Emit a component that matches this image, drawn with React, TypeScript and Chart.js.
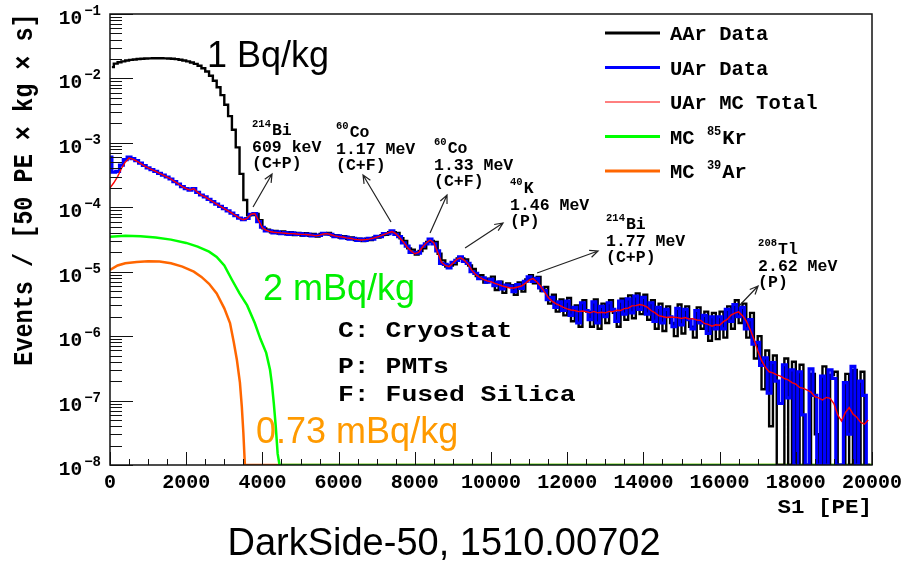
import React, { useEffect, useRef } from 'react';
import { Chart, registerables } from 'chart.js';

Chart.register(...registerables);

// ---------- DATA ----------
// S1 bin centres (PE), 100 PE bins, 0 .. 19900 (UAr data / MC); AAr data bins are offset by half a bin
const BIN_PE: number[] = Array.from({ length: 200 }, (_, i) => i * 100);
const AAR_BIN_PE: number[] = Array.from({ length: 200 }, (_, i) => i * 100 + 50);

// AAr data (events / [50 PE x kg x s])
const AAR_DATA: number[] = [
  1.5e-2, 1.7e-2, 1.78e-2, 1.84e-2, 1.9e-2, 1.94e-2, 1.97e-2, 2.0e-2, 2.02e-2, 2.04e-2,
  2.05e-2, 2.06e-2, 2.06e-2, 2.06e-2, 2.05e-2, 2.04e-2, 2.02e-2, 1.99e-2, 1.95e-2, 1.9e-2,
  1.84e-2, 1.77e-2, 1.68e-2, 1.57e-2, 1.44e-2, 1.28e-2, 1.1e-2, 9.2e-3, 7.3e-3, 5.5e-3,
  3.9e-3, 2.6e-3, 1.6e-3, 8.5e-4, 3.3e-4, 1.3e-4, 7.5e-5, 7.6e-5, 7.9e-5, 6.3e-5,
  4.7e-5, 4.5e-5, 4.1e-5, 4.3e-5, 3.9e-5, 4.2e-5, 3.8e-5, 4.1e-5, 3.7e-5, 4.0e-5,
  3.65e-5, 3.95e-5, 3.6e-5, 3.85e-5, 3.5e-5, 3.85e-5, 3.8e-5, 4.0e-5, 3.65e-5, 3.7e-5,
  3.4e-5, 3.55e-5, 3.25e-5, 3.4e-5, 3.1e-5, 3.25e-5, 3.0e-5, 3.25e-5, 3.1e-5, 3.4e-5,
  3.4e-5, 3.7e-5, 3.75e-5, 4.1e-5, 4.1e-5, 4.0e-5, 3.3e-5, 3.0e-5, 2.3e-5, 2.2e-5,
  1.85e-5, 2.1e-5, 2.3e-5, 2.9e-5, 3.0e-5, 2.9e-5, 1.9e-5, 1.5e-5, 1.2e-5, 1.25e-5,
  1.3e-5, 1.6e-5, 1.6e-5, 1.55e-5, 1.25e-5, 1.1e-5, 8.6e-6, 8.8e-6, 6.8e-6, 7.8e-6,
  8.4e-6, 5.2e-6, 7.0e-6, 4.7e-6, 6.6e-6, 6.2e-6, 4.4e-6, 6.8e-6, 4.9e-6, 7.6e-6,
  8.8e-6, 6.6e-6, 8.3e-6, 5.0e-6, 5.8e-6, 3.2e-6, 4.4e-6, 2.4e-6, 3.7e-6, 2.1e-6,
  3.9e-6, 1.7e-6, 3.0e-6, 1.4e-6, 3.6e-6, 2.4e-6, 1.4e-6, 3.7e-6, 1.3e-6, 3.2e-6,
  1.6e-6, 3.6e-6, 2.3e-6, 1.4e-6, 3.8e-6, 1.8e-6, 4.3e-6, 1.9e-6, 4.6e-6, 2.2e-6,
  4.4e-6, 1.8e-6, 3.6e-6, 1.3e-6, 3.2e-6, 1.2e-6, 2.9e-6, 1.6e-6, 1.0e-6, 3.1e-6,
  1.1e-6, 2.9e-6, 1.4e-6, 0.95e-6, 2.8e-6, 1.3e-6, 2.4e-6, 0.85e-6, 2.3e-6, 0.9e-6,
  2.4e-6, 0.95e-6, 2.9e-6, 1.3e-6, 3.6e-6, 1.6e-6, 3.2e-6, 0.95e-6, 2.3e-6, 4.5e-7,
  1.0e-6, 1.5e-7, 6.0e-7, 4e-8, 5.0e-7, 1e-8, 1e-8, 4.5e-7, 1e-8, 4.0e-7,
  1e-8, 3.6e-7, 1e-8, 1e-8, 2.6e-7, 3e-8, 1e-8, 3.4e-7, 1e-8, 2.5e-7,
  2.8e-7, 1e-8, 1e-8, 2.6e-7, 1e-8, 3.0e-7, 1e-8, 2.8e-7, 1e-8, 1e-8,
];

// UAr data
const UAR_DATA: number[] = [
  6.0e-4, 3.5e-4, 3.6e-4, 4.5e-4, 5.5e-4, 6.0e-4, 5.7e-4, 5.3e-4, 4.85e-4, 4.45e-4,
  4.1e-4, 3.85e-4, 3.6e-4, 3.35e-4, 3.15e-4, 2.95e-4, 2.75e-4, 2.5e-4, 2.3e-4, 2.1e-4,
  1.95e-4, 1.85e-4, 1.95e-4, 1.7e-4, 1.55e-4, 1.45e-4, 1.33e-4, 1.22e-4, 1.12e-4, 1.03e-4,
  9.5e-5, 8.8e-5, 8.1e-5, 7.4e-5, 6.8e-5, 6.4e-5, 6.7e-5, 7.8e-5, 8.0e-5, 6.0e-5,
  4.9e-5, 4.3e-5, 4.3e-5, 4.0e-5, 4.15e-5, 3.9e-5, 4.05e-5, 3.8e-5, 4.0e-5, 3.8e-5,
  3.9e-5, 3.7e-5, 3.85e-5, 3.6e-5, 3.7e-5, 3.65e-5, 3.95e-5, 3.85e-5, 3.8e-5, 3.5e-5,
  3.6e-5, 3.35e-5, 3.45e-5, 3.2e-5, 3.3e-5, 3.05e-5, 3.2e-5, 3.05e-5, 3.3e-5, 3.2e-5,
  3.55e-5, 3.5e-5, 3.9e-5, 3.9e-5, 4.3e-5, 3.8e-5, 3.5e-5, 2.8e-5, 2.5e-5, 2.0e-5,
  2.0e-5, 1.95e-5, 2.5e-5, 2.7e-5, 3.2e-5, 2.7e-5, 2.1e-5, 1.35e-5, 1.3e-5, 1.15e-5,
  1.4e-5, 1.5e-5, 1.7e-5, 1.45e-5, 1.35e-5, 1.0e-5, 9.4e-6, 7.8e-6, 8.0e-6, 6.9e-6,
  7.6e-6, 6.1e-6, 6.9e-6, 5.4e-6, 6.2e-6, 6.0e-6, 4.9e-6, 6.3e-6, 5.5e-6, 7.1e-6,
  8.3e-6, 7.1e-6, 7.9e-6, 5.6e-6, 5.1e-6, 3.7e-6, 4.0e-6, 2.8e-6, 3.4e-6, 2.5e-6,
  3.5e-6, 2.1e-6, 2.8e-6, 1.6e-6, 3.3e-6, 2.5e-6, 1.8e-6, 3.4e-6, 1.6e-6, 2.9e-6,
  2.0e-6, 3.3e-6, 2.6e-6, 1.7e-6, 3.5e-6, 2.2e-6, 3.8e-6, 2.3e-6, 4.2e-6, 2.6e-6,
  4.0e-6, 2.2e-6, 3.3e-6, 1.7e-6, 2.8e-6, 1.6e-6, 2.6e-6, 2.0e-6, 1.4e-6, 2.7e-6,
  1.5e-6, 2.6e-6, 1.8e-6, 1.3e-6, 2.5e-6, 1.6e-6, 2.1e-6, 1.1e-6, 2.0e-6, 1.3e-6,
  2.0e-6, 1.3e-6, 2.6e-6, 1.7e-6, 3.1e-6, 2.0e-6, 2.8e-6, 1.3e-6, 1.8e-6, 7.5e-7,
  8.0e-7, 3.5e-7, 4.6e-7, 1.3e-7, 3.9e-7, 2.0e-7, 9e-8, 3.6e-7, 1.1e-7, 3.0e-7,
  1e-8, 2.8e-7, 6e-8, 1e-8, 3.1e-7, 1.2e-7, 1e-8, 2.4e-7, 1e-8, 3.0e-7,
  2.2e-7, 1e-8, 1e-8, 1.9e-7, 3e-8, 3.4e-7, 1e-8, 2.0e-7, 1.2e-7, 1e-8,
];

// UAr MC total
const UAR_MC: number[] = [
  2.0e-4, 2.4e-4, 3.0e-4, 4.0e-4, 5.0e-4, 5.8e-4, 5.6e-4, 5.2e-4, 4.8e-4, 4.4e-4,
  4.1e-4, 3.85e-4, 3.6e-4, 3.35e-4, 3.15e-4, 2.95e-4, 2.75e-4, 2.5e-4, 2.3e-4, 2.1e-4,
  1.95e-4, 1.85e-4, 1.95e-4, 1.7e-4, 1.55e-4, 1.45e-4, 1.33e-4, 1.22e-4, 1.12e-4, 1.03e-4,
  9.5e-5, 8.8e-5, 8.1e-5, 7.4e-5, 6.8e-5, 6.4e-5, 6.7e-5, 7.8e-5, 8.0e-5, 6.2e-5,
  4.8e-5, 4.4e-5, 4.2e-5, 4.1e-5, 4.05e-5, 4.0e-5, 3.95e-5, 3.9e-5, 3.9e-5, 3.85e-5,
  3.8e-5, 3.8e-5, 3.75e-5, 3.7e-5, 3.6e-5, 3.7e-5, 3.85e-5, 3.9e-5, 3.75e-5, 3.6e-5,
  3.5e-5, 3.45e-5, 3.35e-5, 3.3e-5, 3.2e-5, 3.15e-5, 3.1e-5, 3.15e-5, 3.2e-5, 3.3e-5,
  3.45e-5, 3.6e-5, 3.8e-5, 4.0e-5, 4.2e-5, 3.9e-5, 3.4e-5, 2.9e-5, 2.4e-5, 2.1e-5,
  1.9e-5, 2.0e-5, 2.4e-5, 2.8e-5, 3.1e-5, 2.8e-5, 2.0e-5, 1.4e-5, 1.25e-5, 1.2e-5,
  1.35e-5, 1.55e-5, 1.65e-5, 1.5e-5, 1.3e-5, 1.05e-5, 9.0e-6, 8.2e-6, 7.6e-6, 7.2e-6,
  7.0e-6, 6.6e-6, 6.3e-6, 6.0e-6, 5.8e-6, 5.6e-6, 5.6e-6, 5.8e-6, 6.0e-6, 6.6e-6,
  7.4e-6, 7.8e-6, 7.0e-6, 6.0e-6, 4.9e-6, 4.0e-6, 3.5e-6, 3.2e-6, 3.0e-6, 2.8e-6,
  2.65e-6, 2.55e-6, 2.5e-6, 2.4e-6, 2.45e-6, 2.4e-6, 2.3e-6, 2.42e-6, 2.3e-6, 2.35e-6,
  2.3e-6, 2.42e-6, 2.4e-6, 2.52e-6, 2.5e-6, 2.68e-6, 2.72e-6, 2.95e-6, 2.98e-6, 3.1e-6,
  3.0e-6, 2.82e-6, 2.5e-6, 2.32e-6, 2.08e-6, 2.02e-6, 1.95e-6, 1.98e-6, 1.96e-6, 1.94e-6,
  1.88e-6, 1.94e-6, 1.84e-6, 1.87e-6, 1.78e-6, 1.76e-6, 1.58e-6, 1.52e-6, 1.43e-6, 1.5e-6,
  1.48e-6, 1.68e-6, 1.82e-6, 2.12e-6, 2.28e-6, 2.38e-6, 2.08e-6, 1.72e-6, 1.28e-6, 9e-7,
  6.0e-7, 4.2e-7, 3.3e-7, 2.8e-7, 2.7e-7, 2.5e-7, 2.4e-7, 2.2e-7, 2.1e-7, 1.9e-7,
  1.8e-7, 1.6e-7, 1.55e-7, 1.45e-7, 1.35e-7, 1.15e-7, 1.1e-7, 1.02e-7, 1.12e-7, 1.08e-7,
  9e-8, 6e-8, 4.8e-8, 6.5e-8, 7.8e-8, 6.2e-8, 5.5e-8, 4.6e-8, 4.3e-8, 5e-8,
];

// MC 85Kr
const KR_PE: number[] = [0, 400, 800, 1200, 1600, 2000, 2300, 2600, 2800, 3000, 3200, 3400, 3600, 3800, 3950, 4100, 4200, 4250, 4300, 4350, 4400, 4450, 20000];
const KR_VAL: number[] = [3.5e-5, 3.6e-5, 3.55e-5, 3.4e-5, 3.15e-5, 2.8e-5, 2.45e-5, 2.05e-5, 1.7e-5, 1.25e-5, 7.5e-6, 4.6e-6, 3.0e-6, 1.6e-6, 9e-7, 5.5e-7, 3.0e-7, 1.8e-7, 9e-8, 4e-8, 1.5e-8, 1e-8, 1e-8];

// MC 39Ar
const AR_PE: number[] = [0, 200, 400, 700, 1000, 1300, 1600, 1900, 2200, 2400, 2600, 2800, 3000, 3150, 3250, 3330, 3410, 3460, 3500, 3540, 20000];
const AR_VAL: number[] = [1.07e-5, 1.25e-5, 1.35e-5, 1.42e-5, 1.45e-5, 1.44e-5, 1.35e-5, 1.2e-5, 1.0e-5, 8.3e-6, 6.5e-6, 4.6e-6, 2.7e-6, 1.6e-6, 8e-7, 4.3e-7, 1.9e-7, 8e-8, 3.2e-8, 1e-8, 1e-8];

// Axis ranges / ticks
const X_MIN = 0;
const X_MAX = 20000;
const X_MAJOR = 2000;
const X_MINOR = 500;
const Y_MIN = 1e-8;
const Y_MAX = 1e-1;
const Y_DECADES: number[] = [-8, -7, -6, -5, -4, -3, -2, -1];
const Y_MINOR_MULT: number[] = [2, 3, 4, 5, 6, 7, 8, 9];

// Peak annotations (data coordinates)
const PEAK_LABELS = [
  { iso: '214', el: 'Bi', lines: ['609 keV', '(C+P)'], pe: 3728, val: 1.32e-3 },
  { iso: '60', el: 'Co', lines: ['1.17 MeV', '(C+F)'], pe: 5933, val: 1.23e-3 },
  { iso: '60', el: 'Co', lines: ['1.33 MeV', '(C+F)'], pe: 8505, val: 6.96e-4 },
  { iso: '40', el: 'K', lines: ['1.46 MeV', '(P)'], pe: 10500, val: 1.67e-4 },
  { iso: '214', el: 'Bi', lines: ['1.77 MeV', '(C+P)'], pe: 13020, val: 4.6e-5 },
  { iso: '208', el: 'Tl', lines: ['2.62 MeV', '(P)'], pe: 17010, val: 1.88e-5 },
];
const PEAK_ARROWS = [
  { fromPE: 3754, fromVal: 1.01e-4, toPE: 4253, toVal: 3.29e-4 },
  { fromPE: 7376, fromVal: 5.9e-5, toPE: 6641, toVal: 3.17e-4 },
  { fromPE: 8400, fromVal: 4.0e-5, toPE: 8846, toVal: 1.55e-4 },
  { fromPE: 9319, fromVal: 2.33e-5, toPE: 10316, toVal: 5.7e-5 },
  { fromPE: 11209, fromVal: 9.55e-6, toPE: 12810, toVal: 2.1e-5 },
  { fromPE: 16485, fromVal: 2.83e-6, toPE: 17010, toVal: 6.0e-6 },
];
const ACTIVITY_LABELS = [
  { text: '1 Bq/kg', pe: 2546, val: 1.5e-2, color: '#000000' },
  { text: '2 mBq/kg', pe: 4016, val: 3.64e-6, color: '#00ee00' },
  { text: '0.73 mBq/kg', pe: 3833, val: 2.2e-8, color: '#ff9a00' },
];
const SOURCE_LABELS = [
  { text: 'C: Cryostat', pe: 5985, val: 9.7e-7 },
  { text: 'P: PMTs', pe: 5985, val: 2.68e-7 },
  { text: 'F: Fused Silica', pe: 5985, val: 9.85e-8 },
];
const LEGEND_ITEMS = [
  { pre: 'AAr Data', sup: '', post: '', color: '#000000', width: 3 },
  { pre: 'UAr Data', sup: '', post: '', color: '#0000ff', width: 3 },
  { pre: 'UAr MC Total', sup: '', post: '', color: '#ff0000', width: 1 },
  { pre: 'MC ', sup: '85', post: 'Kr', color: '#00ff00', width: 3 },
  { pre: 'MC ', sup: '39', post: 'Ar', color: '#ff6600', width: 3 },
];
const X_TITLE = 'S1 [PE]';
const Y_TITLE = 'Events / [50 PE \u00d7 kg \u00d7 s]';
const CAPTION = 'DarkSide-50, 1510.00702';

// ---------- DRAWING HELPERS ----------
const MONO = '"Liberation Mono", "DejaVu Sans Mono", monospace';
const SANS = '"Liberation Sans", Arial, sans-serif';

type TOpts = { sx?: number; align?: CanvasTextAlign; color?: string; family?: string; weight?: string };

function drawText(ctx: CanvasRenderingContext2D, s: string, x: number, y: number, size: number, o: TOpts = {}) {
  const { sx = 1, align = 'left', color = '#000', family = MONO, weight = 'bold' } = o;
  ctx.save();
  ctx.translate(x, y);
  ctx.scale(sx, 1);
  ctx.font = `${weight} ${size}px ${family}`;
  ctx.fillStyle = color;
  ctx.textAlign = align;
  ctx.textBaseline = 'alphabetic';
  ctx.fillText(s, 0, 0);
  ctx.restore();
}

function textWidth(ctx: CanvasRenderingContext2D, s: string, size: number, sx = 1, family = MONO, weight = 'bold') {
  ctx.save();
  ctx.font = `${weight} ${size}px ${family}`;
  const w = ctx.measureText(s).width * sx;
  ctx.restore();
  return w;
}

function drawArrow(ctx: CanvasRenderingContext2D, x1: number, y1: number, x2: number, y2: number) {
  const ang = Math.atan2(y2 - y1, x2 - x1);
  const head = 9;
  const spread = 0.42;
  ctx.beginPath();
  ctx.moveTo(x1, y1);
  ctx.lineTo(x2, y2);
  ctx.moveTo(x2 - head * Math.cos(ang - spread), y2 - head * Math.sin(ang - spread));
  ctx.lineTo(x2, y2);
  ctx.lineTo(x2 - head * Math.cos(ang + spread), y2 - head * Math.sin(ang + spread));
  ctx.stroke();
}

const overlayPlugin = {
  id: 'overlay',
  afterDraw(chart: any) {
    const ctx: CanvasRenderingContext2D = chart.ctx;
    const a = chart.chartArea;
    const xs = chart.scales.x;
    const ys = chart.scales.y;
    const px = (v: number) => xs.getPixelForValue(v);
    const py = (v: number) => ys.getPixelForValue(v);

    ctx.save();
    // frame
    ctx.strokeStyle = '#111';
    ctx.lineWidth = 1.5;
    ctx.strokeRect(a.left, a.top, a.right - a.left, a.bottom - a.top);

    // x ticks
    ctx.lineWidth = 1;
    ctx.strokeStyle = '#111';
    for (let v = X_MIN; v <= X_MAX; v += X_MINOR) {
      const x = Math.round(px(v)) + 0.5;
      const len = v % X_MAJOR === 0 ? 13 : 6;
      ctx.beginPath();
      ctx.moveTo(x, a.bottom);
      ctx.lineTo(x, a.bottom - len);
      ctx.stroke();
    }
    for (let v = X_MIN; v <= X_MAX; v += X_MAJOR) {
      drawText(ctx, String(v), px(v), a.bottom + 23, 20, { align: 'center' });
    }

    // y ticks
    for (const e of Y_DECADES) {
      const dec = Math.pow(10, e);
      const y = Math.round(py(dec)) + 0.5;
      ctx.beginPath();
      ctx.moveTo(a.left, y);
      ctx.lineTo(a.left + 23, y);
      ctx.stroke();
      if (e < -1) {
        for (const m of Y_MINOR_MULT) {
          const ym = Math.round(py(m * dec)) + 0.5;
          ctx.beginPath();
          ctx.moveTo(a.left, ym);
          ctx.lineTo(a.left + 12, ym);
          ctx.stroke();
        }
      }
      const expStr = '\u2212' + String(-e);
      const ew = textWidth(ctx, expStr, 14);
      const right = a.left - 9;
      drawText(ctx, expStr, right, py(dec) + 1, 14, { align: 'right' });
      drawText(ctx, '10', right - ew - 2, py(dec) + 10, 19.5, { align: 'right' });
    }

    // y title
    ctx.save();
    ctx.translate(32, (a.top + 365) / 2);
    ctx.rotate(-Math.PI / 2);
    ctx.scale(0.87, 1);
    ctx.font = `bold 27px ${MONO}`;
    ctx.fillStyle = '#000';
    ctx.textAlign = 'center';
    ctx.textBaseline = 'alphabetic';
    ctx.fillText(Y_TITLE, 0, 0);
    ctx.restore();

    // x title
    drawText(ctx, X_TITLE, a.right, a.bottom + 48, 21, { align: 'right', sx: 1.07 });

    // arrows
    ctx.strokeStyle = '#222';
    ctx.lineWidth = 1.2;
    for (const ar of PEAK_ARROWS) {
      drawArrow(ctx, px(ar.fromPE), py(ar.fromVal), px(ar.toPE), py(ar.toVal));
    }

    // peak labels
    for (const lb of PEAK_LABELS) {
      const x = px(lb.pe);
      const y = py(lb.val);
      drawText(ctx, lb.iso, x, y - 8, 10.5);
      const w = textWidth(ctx, lb.iso, 10.5);
      drawText(ctx, lb.el, x + w + 1, y, 16.5);
      lb.lines.forEach((s, i) => drawText(ctx, s, x, y + 17 + 16 * i, 16.5));
    }

    // activity labels
    for (const lb of ACTIVITY_LABELS) {
      drawText(ctx, lb.text, px(lb.pe), py(lb.val), 36, { family: SANS, weight: 'normal', color: lb.color });
    }

    // source labels
    for (const lb of SOURCE_LABELS) {
      drawText(ctx, lb.text, px(lb.pe), py(lb.val), 22, { sx: 1.2 });
    }

    // legend
    const lx0 = a.right - 267;
    const lx1 = a.right - 212;
    const tx = a.right - 202;
    LEGEND_ITEMS.forEach((it, i) => {
      const y = a.top + 19 + 34.5 * i;
      ctx.strokeStyle = it.color;
      ctx.lineWidth = it.width;
      ctx.beginPath();
      ctx.moveTo(lx0, y);
      ctx.lineTo(lx1, y);
      ctx.stroke();
      drawText(ctx, it.pre, tx, y + 7, 20.5);
      if (it.sup) {
        const w1 = textWidth(ctx, it.pre, 20.5);
        drawText(ctx, it.sup, tx + w1, y - 2, 12);
        const w2 = textWidth(ctx, it.sup, 12);
        drawText(ctx, it.post, tx + w1 + w2 + 1, y + 7, 20.5);
      }
    });

    // caption
    drawText(ctx, CAPTION, 444, 555, 38, { family: SANS, weight: 'normal', align: 'center' });
    ctx.restore();
  },
};

function series(xs: number[], ys: number[]) {
  return xs.map((x, i) => ({ x, y: ys[i] }));
}

export default function App() {
  const ref = useRef<HTMLCanvasElement>(null);

  useEffect(() => {
    if (!ref.current) return;
    const chart = new Chart(ref.current, {
      type: 'line',
      data: {
        datasets: [
          { label: 'UAr MC Total', data: series(BIN_PE, UAR_MC), borderColor: '#ff0000', borderWidth: 1.4 },
          { label: 'UAr Data', data: series(BIN_PE, UAR_DATA), borderColor: '#0000ff', borderWidth: 3.2, stepped: 'middle' },
          { label: 'AAr Data', data: series(AAR_BIN_PE, AAR_DATA), borderColor: '#000000', borderWidth: 2.4, stepped: 'middle' },
          { label: 'MC 85Kr', data: series(KR_PE, KR_VAL), borderColor: '#00ff00', borderWidth: 2.5 },
          { label: 'MC 39Ar', data: series(AR_PE, AR_VAL), borderColor: '#ff6600', borderWidth: 2.5 },
        ] as any,
      },
      options: {
        animation: false,
        responsive: false,
        maintainAspectRatio: false,
        devicePixelRatio: 1,
        layout: { padding: { left: 110, top: 14, right: 34, bottom: 99 } },
        elements: { point: { radius: 0 }, line: { tension: 0, fill: false } },
        scales: {
          x: { type: 'linear', min: X_MIN, max: X_MAX, display: false },
          y: { type: 'logarithmic', min: Y_MIN, max: Y_MAX, display: false },
        },
        plugins: { legend: { display: false }, tooltip: { enabled: false } },
      },
      plugins: [overlayPlugin],
    });
    return () => chart.destroy();
  }, []);

  return (
    <div style={{ position: 'absolute', left: 0, top: 0, width: 906, height: 564, background: '#ffffff' }}>
      <canvas ref={ref} width={906} height={564} style={{ display: 'block', width: 906, height: 564 }} />
    </div>
  );
}
